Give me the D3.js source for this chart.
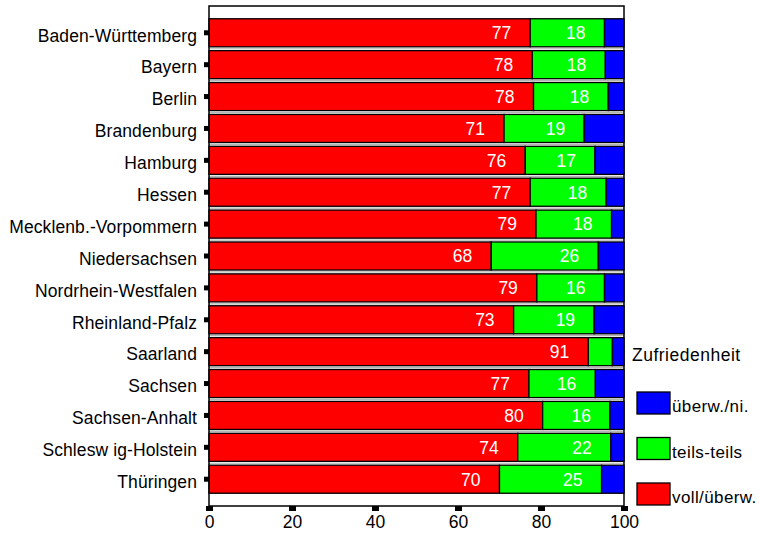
<!DOCTYPE html>
<html>
<head>
<meta charset="utf-8">
<script src="https://cdn.jsdelivr.net/npm/d3@7"></script>
<style>
  html, body { margin: 0; padding: 0; background: #fff; }
  svg { display: block; font-family: "Liberation Sans", Arial, sans-serif; }
</style>
</head>
<body>
<svg id="chart" width="760" height="537"></svg>
<script>
const categories = ["Baden-Württemberg","Bayern","Berlin","Brandenburg","Hamburg","Hessen","Mecklenb.-Vorpommern","Niedersachsen","Nordrhein-Westfalen","Rheinland-Pfalz","Saarland","Sachsen","Sachsen-Anhalt","Schlesw ig-Holstein","Thüringen"];
const seriesNames = ["voll/überw.","teils-teils","überw./ni."];
const vollUeberw = [77.4, 77.9, 78.2, 71.1, 76.2, 77.4, 78.8, 68.0, 79.0, 73.4, 91.4, 77.1, 80.4, 74.4, 70.0];
const teilsTeils = [17.9, 17.6, 18.0, 19.3, 16.8, 18.3, 18.2, 25.8, 16.3, 19.4, 5.8, 16.0, 16.2, 22.4, 24.6];
const ueberwNi   = [4.7, 4.5, 3.8, 9.6, 7.0, 4.3, 3.0, 6.2, 4.7, 7.2, 2.8, 6.9, 3.4, 3.2, 5.4];
const xTicks = [0, 20, 40, 60, 80, 100];
const legendTitle = "Zufriedenheit";
const colors = ["#ff0000", "#00ff00", "#0000ff"];

const svg = d3.select("#chart");
const pLeft = 209, pRight = 624, pTop = 6, pBottom = 506;

const x = d3.scaleLinear().domain([0, 100]).range([pLeft, pRight]);
const y = d3.scaleBand().domain(categories).range([pTop, pBottom]).paddingInner(0.12).paddingOuter(0.4);

const seriesValues = [vollUeberw, teilsTeils, ueberwNi];
const rows = categories.map((c, i) => {
  const r = { cat: c };
  seriesNames.forEach((s, j) => r[s] = seriesValues[j][i]);
  return r;
});
const stacked = d3.stack().keys(seriesNames)(rows);

// plot background
svg.append("rect").attr("x", pLeft).attr("y", pTop).attr("width", pRight - pLeft).attr("height", pBottom - pTop)
  .attr("fill", "#fff");

// gap lines between bars
const gapY = categories.slice(1).map(c => y(c) - y.step() * y.paddingInner() / 2);
svg.append("g").selectAll("line").data(gapY).join("line")
  .attr("x1", pLeft).attr("x2", pRight)
  .attr("y1", d => d).attr("y2", d => d)
  .attr("stroke", "#b4b4b4").attr("stroke-width", 1.2);

// bars
const layers = svg.append("g").selectAll("g").data(stacked).join("g")
  .attr("fill", (d, i) => colors[i]);
layers.selectAll("rect").data(d => d).join("rect")
  .attr("x", d => x(d[0]))
  .attr("y", d => y(d.data.cat))
  .attr("width", d => x(d[1]) - x(d[0]))
  .attr("height", y.bandwidth())
  .attr("stroke", "#000").attr("stroke-width", 1.3);

// value labels (first two series)
stacked.slice(0, 2).forEach(layer => {
  svg.append("g").selectAll("text").data(layer.filter(d => d[1] - d[0] > 10)).join("text")
    .attr("x", d => x(d[1]) - 19)
    .attr("y", d => y(d.data.cat) + y.bandwidth() / 2)
    .attr("dy", "0.36em")
    .attr("text-anchor", "end")
    .attr("fill", "#fff")
    .attr("font-size", 17.5)
    .text(d => Math.round(d[1] - d[0]));
});

// frame
svg.append("rect").attr("x", pLeft).attr("y", pTop).attr("width", pRight - pLeft).attr("height", pBottom - pTop)
  .attr("fill", "none").attr("stroke", "#000").attr("stroke-width", 1.5);

// y axis
const yAxis = svg.append("g").attr("transform", `translate(${pLeft},0)`)
  .call(d3.axisLeft(y).tickSize(5).tickPadding(7));
yAxis.select(".domain").remove();
yAxis.selectAll(".tick line").attr("stroke", "#000").attr("stroke-width", 5);
yAxis.selectAll(".tick text").attr("font-size", 17.5).attr("fill", "#000").attr("dy", "0.5em")
  .attr("font-family", "Liberation Sans, Arial, sans-serif").attr("letter-spacing", 0.1);

// x axis
const xAxis = svg.append("g").attr("transform", `translate(0,${pBottom})`)
  .call(d3.axisBottom(x).tickValues(xTicks).tickSize(5).tickPadding(5));
xAxis.select(".domain").remove();
xAxis.selectAll(".tick line").attr("stroke", "#000").attr("stroke-width", 7);
xAxis.selectAll(".tick text").attr("font-size", 17.5).attr("fill", "#000")
  .attr("font-family", "Liberation Sans, Arial, sans-serif");

// legend
const lg = svg.append("g");
lg.append("text").attr("x", 632).attr("y", 361).attr("font-size", 17.5).attr("letter-spacing", 0.5)
  .attr("fill", "#000").text(legendTitle);
const legendOrder = seriesNames.map((s, i) => ({ name: s, color: colors[i] })).reverse();
const items = lg.selectAll("g.item").data(legendOrder).join("g").attr("class", "item")
  .attr("transform", (d, i) => `translate(637,${392 + i * 45.5})`);
items.append("rect").attr("width", 33).attr("height", 22)
  .attr("fill", d => d.color).attr("stroke", "#000").attr("stroke-width", 1.3);
items.append("text").attr("x", 35).attr("y", 20).attr("font-size", 17).attr("letter-spacing", 0.4)
  .attr("fill", "#000").text(d => d.name);
</script>
</body>
</html>
